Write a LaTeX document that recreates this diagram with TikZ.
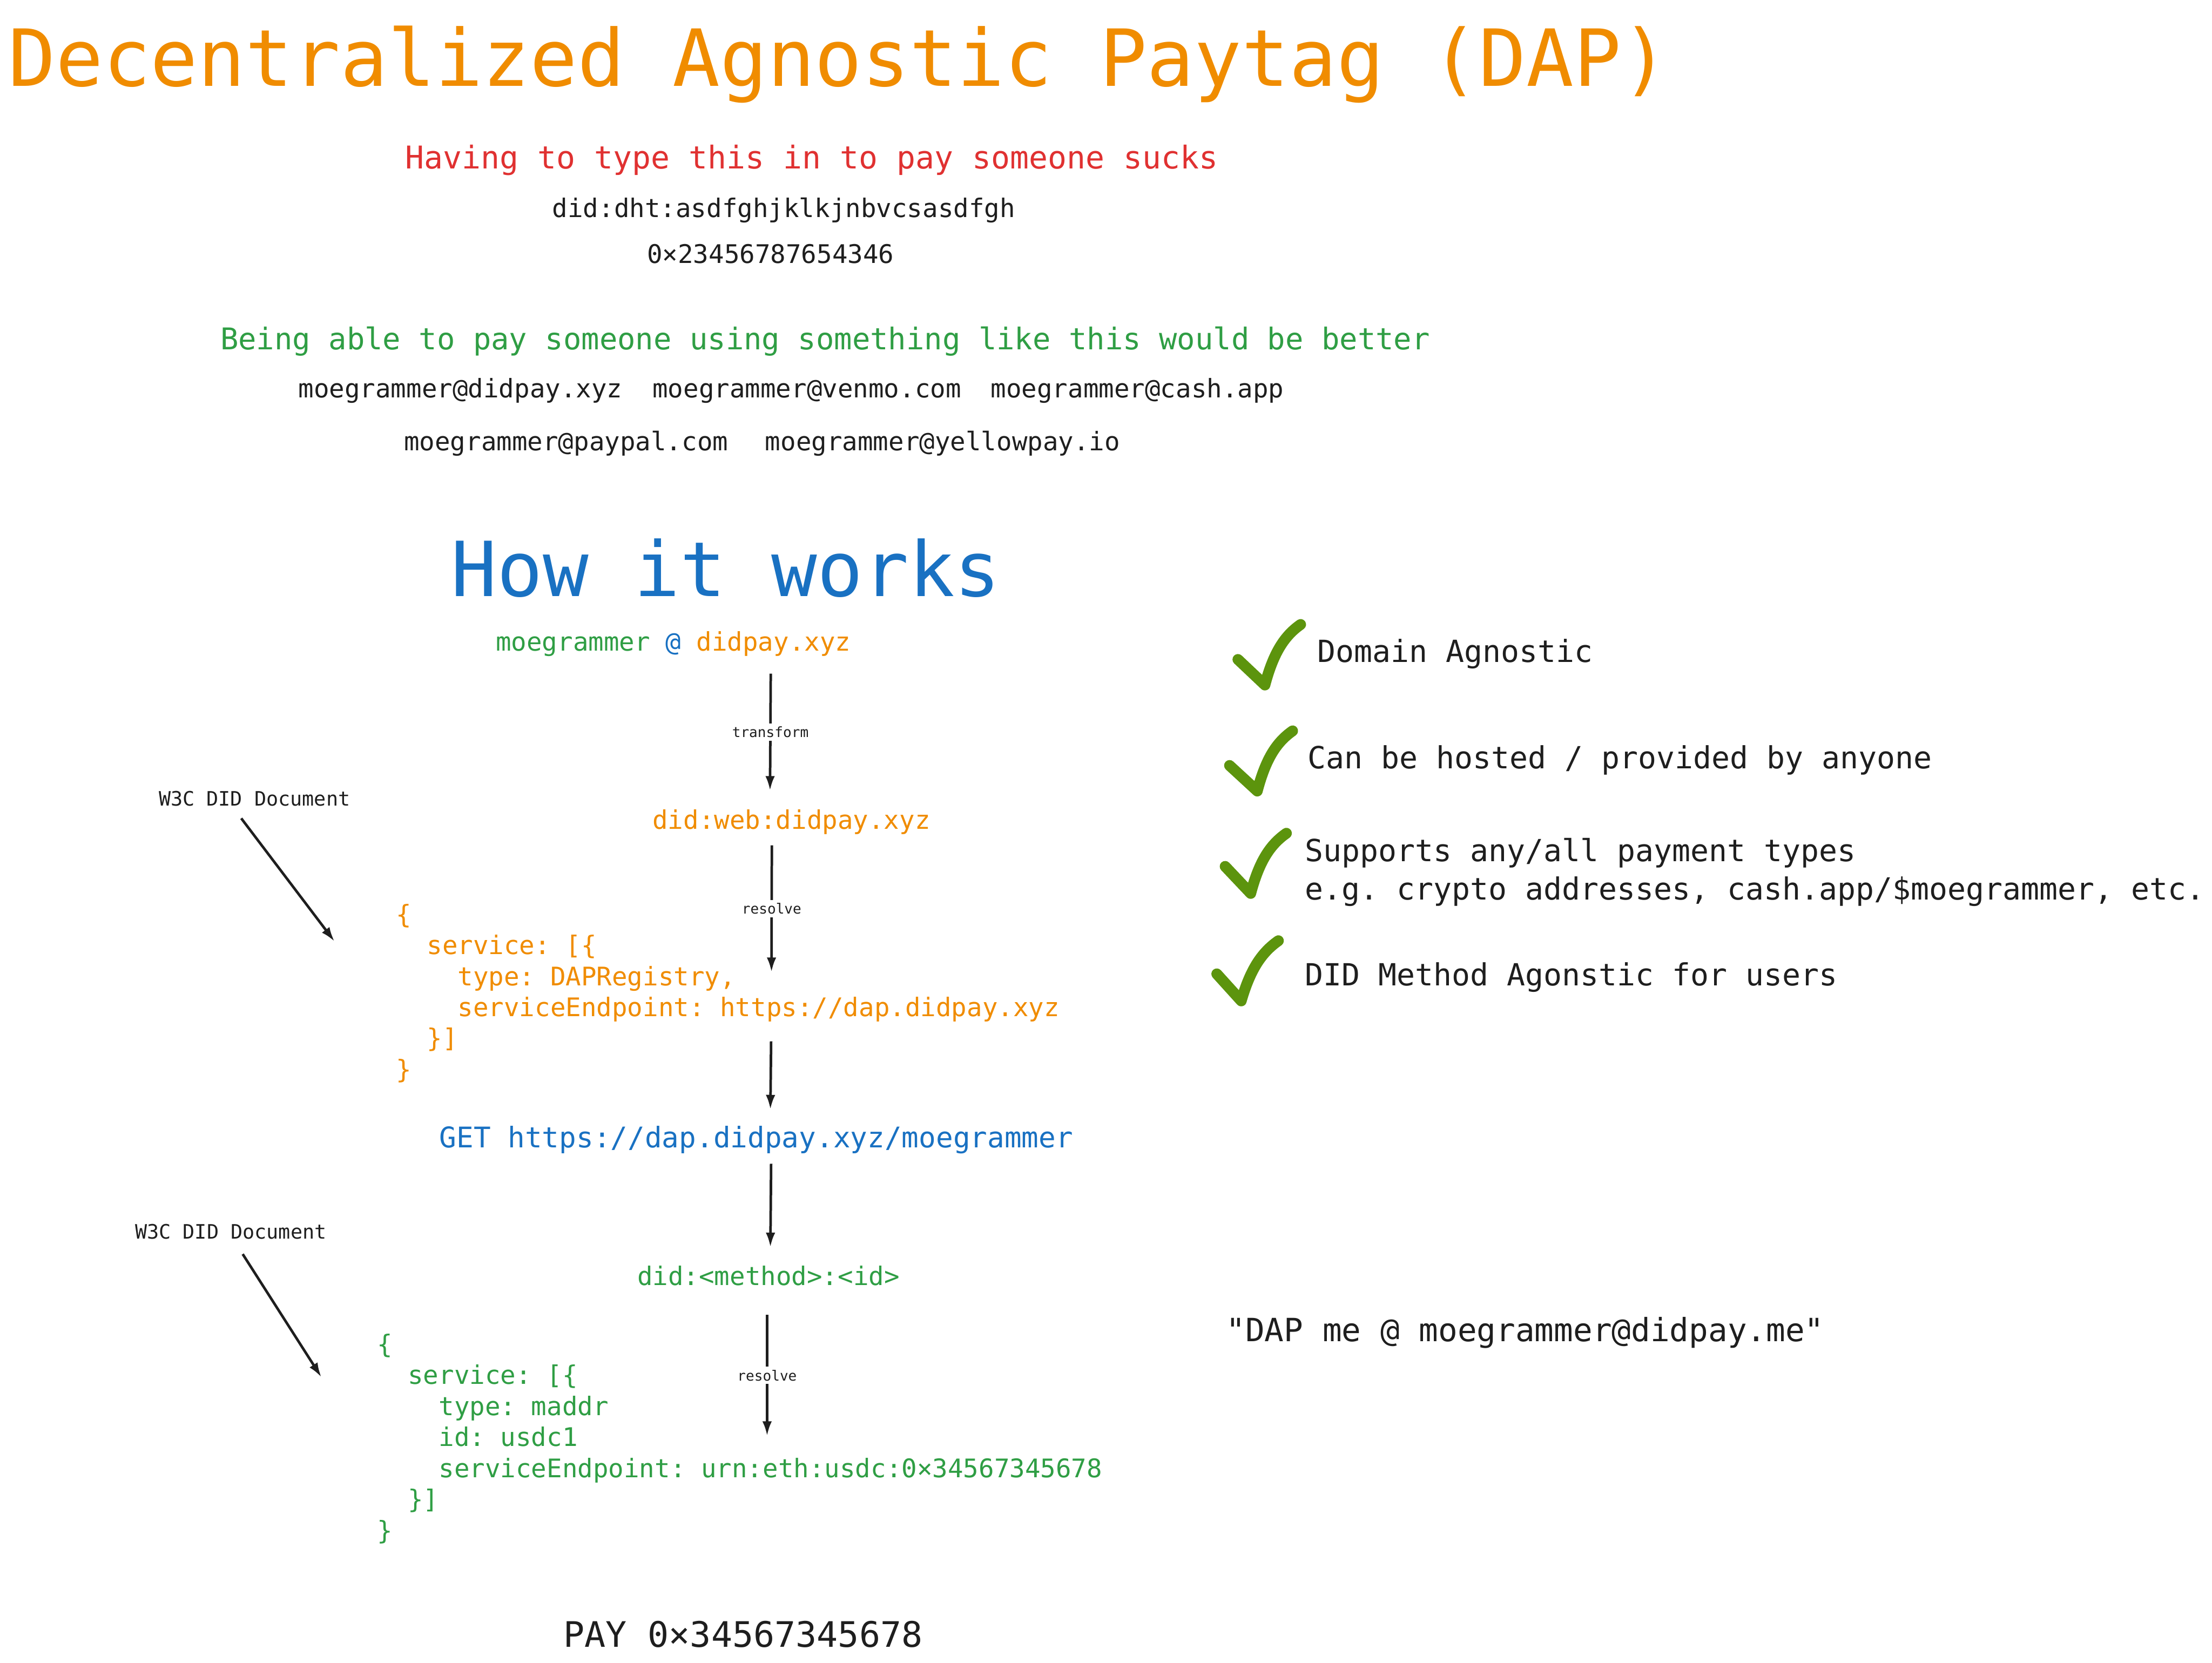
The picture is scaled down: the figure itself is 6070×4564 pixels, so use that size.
\documentclass[tikz,border=0pt]{standalone}
\usepackage{fontspec}
\setmainfont{DejaVu Sans Mono}[Ligatures=TeXOff]
\definecolor{dapOrange}{HTML}{F08C00}
\definecolor{dapRed}{HTML}{E03131}
\definecolor{dapGreen}{HTML}{2F9E44}
\definecolor{dapBlue}{HTML}{1971C2}
\definecolor{tickGreen}{HTML}{5C940D}
\definecolor{ink}{HTML}{1E1E1E}
\usetikzlibrary{arrows.meta}
\newcommand{\fsz}[2]{\fontsize{#1pt}{#2pt}\selectfont}
\newcommand{\ind}{\phantom{xx}}

\begin{document}
\frenchspacing
\begin{tikzpicture}[x=0.01cm, y=-0.01cm,
    txt/.style={inner sep=0pt, anchor=base west, text=ink},
    json/.style={txt, align=left, font=\fsz{20}{24.2}},
    arrow/.style={-{Latex[length=4mm,width=2.6mm]}, line width=2pt, ink},
    tag/.style={font=\fsz{11}{13}, fill=white, inner sep=2.5pt, text=ink},
    tick/.style={line width=8.5pt, line cap=round, line join=round, tickGreen}]
\useasboundingbox (0,0) rectangle (6070,4564);

\node[txt, text=dapOrange, font=\fsz{61.5}{70}] (title) at (22,236) {Decentralized Agnostic Paytag (DAP)};
\node[txt, text=dapRed, font=\fsz{24.5}{29}] (bad) at (1112,463) {Having to type this in to pay someone sucks};
\node[txt, font=\fsz{20}{24}] (dht) at (1515,597) {did:dht:asdfghjklkjnbvcsasdfgh};
\node[txt, font=\fsz{20}{24}] (hex) at (1775,722) {0×23456787654346};

\node[txt, text=dapGreen, font=\fsz{23.4}{28}] (good) at (604,960) {Being able to pay someone using something like this would be better};
\node[txt, font=\fsz{20}{24}] (tagA) at (818,1092) {moegrammer@didpay.xyz};
\node[txt, font=\fsz{20}{24}] (tagB) at (1790,1092) {moegrammer@venmo.com};
\node[txt, font=\fsz{20}{24}] (tagC) at (2718,1092) {moegrammer@cash.app};
\node[txt, font=\fsz{20}{24}] (tagD) at (1108,1237) {moegrammer@paypal.com};
\node[txt, font=\fsz{20}{24}] (tagE) at (2099,1237) {moegrammer@yellowpay.io};

\node[txt, text=dapBlue, font=\fsz{59.3}{70}] (how) at (1238,1637) {How it works};

% lookup chain
\node[txt, font=\fsz{20}{24}] (paytag) at (1360,1786) {\textcolor{dapGreen}{moegrammer} \textcolor{dapBlue}{@} \textcolor{dapOrange}{didpay.xyz}};
\node[txt, text=dapOrange, font=\fsz{20}{24}] (webdid) at (1790,2275) {did:web:didpay.xyz};
\node[json, text=dapOrange] (doc1) at (1086,2960) {\{\\
\ind service: [\{\\
\ind\ind type: DAPRegistry,\\
\ind\ind serviceEndpoint: https://dap.didpay.xyz\\
\ind\}]\\
\}};
\node[txt, text=dapBlue, font=\fsz{22.2}{27}] (get) at (1205,3150) {GET https://dap.didpay.xyz/moegrammer};
\node[txt, text=dapGreen, font=\fsz{20}{24}] (anydid) at (1748,3528) {did:<method>:<id>};
\node[json, text=dapGreen] (doc2) at (1034,4225) {\{\\
\ind service: [\{\\
\ind\ind type: maddr\\
\ind\ind id: usdc1\\
\ind\ind serviceEndpoint: urn:eth:usdc:0×34567345678\\
\ind\}]\\
\}};
\node[txt, font=\fsz{27.4}{33}] (pay) at (1545,4521) {PAY 0×34567345678};

\coordinate (a1s) at (2115,1849); \coordinate (a1e) at (2113,2170);
\coordinate (a2s) at (2118,2320); \coordinate (a2e) at (2117,2668);
\coordinate (a3s) at (2116,2858); \coordinate (a3e) at (2114,3045);
\coordinate (a4s) at (2116,3194); \coordinate (a4e) at (2114,3423);
\coordinate (a5s) at (2105,3609); \coordinate (a5e) at (2105,3941);
\draw[arrow] (a1s) -- node[tag] {transform} (a1e);
\draw[arrow] (a2s) -- node[tag] {resolve} (a2e);
\draw[arrow] (a3s) -- (a3e);
\draw[arrow] (a4s) -- (a4e);
\draw[arrow] (a5s) -- node[tag] {resolve} (a5e);

% W3C notes
\node[txt, font=\fsz{15.5}{19}] (w3cA) at (435,2212) {W3C DID Document};
\node[txt, font=\fsz{15.5}{19}] (w3cB) at (370,3400) {W3C DID Document};
\coordinate (w1s) at (662,2246); \coordinate (w1e) at (918,2584);
\coordinate (w2s) at (666,3442); \coordinate (w2e) at (882,3780);
\draw[arrow] (w1s) -- (w1e);
\draw[arrow] (w2s) -- (w2e);

% checklist
\draw[tick] (3397,1810) -- (3471,1880) .. controls (3495,1790) and (3525,1745) .. (3569,1714);
\draw[tick] (3374,2101) -- (3450,2171) .. controls (3474,2081) and (3503,2037) .. (3547,2006);
\draw[tick] (3362,2378) -- (3432,2452) .. controls (3456,2362) and (3486,2318) .. (3530,2287);
\draw[tick] (3339,2673) -- (3406,2747) .. controls (3432,2657) and (3464,2613) .. (3508,2582);
\node[txt, font=\fsz{23.8}{29}] (pt1) at (3615,1817) {Domain Agnostic};
\node[txt, font=\fsz{23.8}{29}] (pt2) at (3588,2109) {Can be hosted / provided by anyone};
\node[txt, align=left, font=\fsz{23.8}{29.9}] (pt3) at (3580,2469) {Supports any/all payment types\\e.g. crypto addresses, cash.app/\$moegrammer, etc.};
\node[txt, font=\fsz{23.8}{29}] (pt4) at (3580,2705) {DID Method Agonstic for users};

\node[txt, font=\fsz{25}{30}] (dapme) at (3364,3682) {"DAP me @ moegrammer@didpay.me"};
\end{tikzpicture}
\end{document}
